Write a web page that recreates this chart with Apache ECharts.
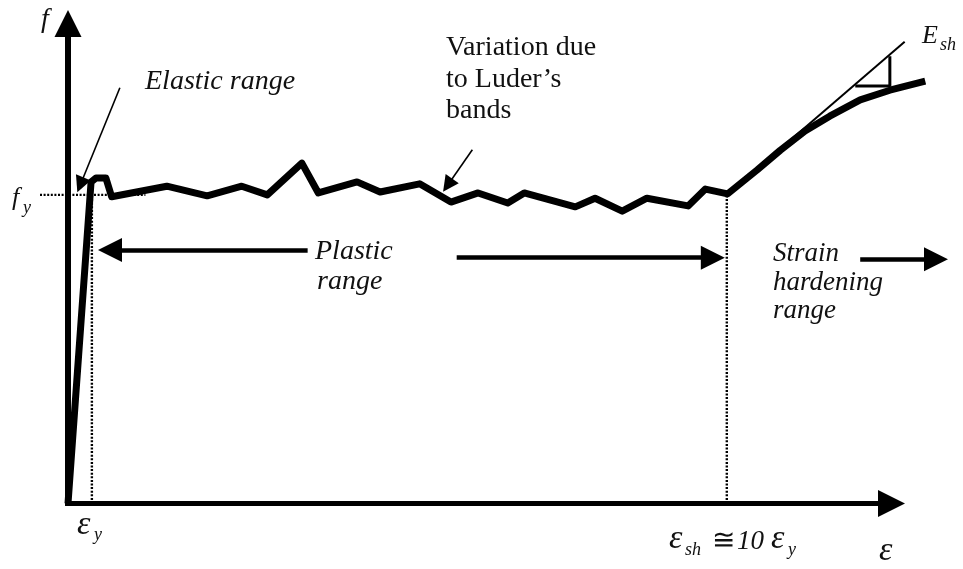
<!DOCTYPE html>
<html>
<head>
<meta charset="utf-8">
<script src="https://cdn.jsdelivr.net/npm/echarts@6/dist/echarts.min.js"></script>
<style>
html,body{margin:0;padding:0;background:#fff;}
#chart{width:963px;height:569px;}
</style>
</head>
<body>
<div id="chart"></div>
<script>
// ---- data (arbitrary strain / stress units) ----
const strain = [0, 2.8, 3.4, 4.6, 5.3, 12.0, 16.9, 21.1, 24.2, 28.4, 30.4, 35.1, 37.9, 42.7, 46.5, 49.8, 53.4, 55.4, 61.6, 64.0, 67.3, 70.3, 75.3, 77.4, 80.1, 83.7, 86.5, 89.5, 92.5, 96.2, 99.8, 104.1];
const stress = [0, 67.0, 67.8, 67.8, 63.9, 66.1, 64.1, 66.1, 64.3, 70.9, 64.7, 67.0, 64.9, 66.6, 62.8, 64.7, 62.6, 64.7, 61.8, 63.6, 60.9, 63.6, 62.0, 65.5, 64.5, 69.5, 73.6, 77.6, 80.7, 84.1, 86.1, 88.0];
const fy = 64.3;          // yield stress
const ey = 2.9;           // yield strain
const esh = 80.0;         // strain at onset of hardening
const eshStress = 64.5;
const fyLineX = [-3.4, 9.4];
const tangentX = [87.7, 101.6];
const tangentY = [75.7, 96.2];
const triX = [95.6, 99.8, 99.8];
const triY = [87.0, 87.0, 93.2];
// axis arrows (end points in data units)
const axisEndX = 100;
const axisEndY = 100;
// range arrows: [x1, y1, x2, y2]
const rangeArrows = [[29.1, 52.8, 5.1, 52.8], [47.2, 51.2, 78.3, 51.2], [96.2, 50.9, 105.4, 50.9]];
// pointer arrows: [x1, y1, x2, y2]
const pointerArrows = [[6.3, 86.6, 1.5, 66.4], [49.1, 73.7, 46.1, 66.3]];

const FONT = '"Liberation Serif", "Times New Roman", serif';
function T(text, x, base, size, italic, align) {
  return {
    type: 'text', x: x, y: base - 0.34 * size, silent: true, z: 100,
    style: {
      text: text,
      font: (italic ? 'italic ' : '') + size + 'px ' + FONT,
      fill: '#111',
      textAlign: align || 'left',
      textVerticalAlign: 'middle'
    }
  };
}

const chart = echarts.init(document.getElementById('chart'), null, {renderer: 'canvas'});
const zip = (xs, ys) => xs.map((x, i) => [x, ys[i]]);
const dotted = {color: '#000', width: 2.4, type: [2, 1.6]};

chart.setOption({
  animation: false,
  backgroundColor: '#fff',
  grid: {left: 2.12, right: 5.62, top: 4.3, bottom: 55.9, containLabel: false, outerBoundsMode: 'none'},
  xAxis: {
    type: 'value', min: -8, max: 108,
    axisLine: {show: false}, axisTick: {show: false}, axisLabel: {show: false}, splitLine: {show: false}
  },
  yAxis: {
    type: 'value', min: -2, max: 104,
    axisLine: {show: false}, axisTick: {show: false}, axisLabel: {show: false}, splitLine: {show: false}
  },
  series: [
    {
      type: 'line', data: zip(strain, stress), symbol: 'none', z: 5,
      lineStyle: {color: '#000', width: 7, join: 'round'}
    },
    {
      type: 'line', data: [[ey, 0], [ey, fy]], symbol: 'none', z: 3, lineStyle: dotted
    },
    {
      type: 'line', data: [[fyLineX[0], fy], [fyLineX[1], fy]], symbol: 'none', z: 3, lineStyle: dotted
    },
    {
      type: 'line', data: [[esh, 0], [esh, eshStress]], symbol: 'none', z: 3, lineStyle: dotted
    },
    {
      type: 'line', data: zip(tangentX, tangentY), symbol: 'none', z: 4,
      lineStyle: {color: '#000', width: 2}
    },
    {
      type: 'line', data: zip(triX, triY), symbol: 'none', z: 4,
      lineStyle: {color: '#000', width: 3}
    },
    {
      // axes with arrow heads
      type: 'line', data: [], z: 7,
      markLine: {
        silent: true, animation: false,
        symbol: ['none', 'triangle'], symbolSize: 27,
        label: {show: false},
        lineStyle: {color: '#000', width: 5, type: 'solid'},
        data: [
          [{coord: [-0.3, 0]}, {coord: [axisEndX, 0]}],
          [{coord: [0, -0.5], lineStyle: {width: 6}}, {coord: [0, axisEndY]}]
        ]
      }
    },
    {
      type: 'line', data: [], z: 6,
      markLine: {
        silent: true, animation: false,
        symbol: ['none', 'triangle'], symbolSize: 24,
        label: {show: false},
        lineStyle: {color: '#000', width: 4.5, type: 'solid'},
        data: rangeArrows.map(a => [{coord: [a[0], a[1]]}, {coord: [a[2], a[3]]}])
      }
    },
    {
      type: 'line', data: [], z: 6,
      markLine: {
        silent: true, animation: false,
        symbol: ['none', 'triangle'], symbolSize: 16,
        label: {show: false},
        lineStyle: {color: '#000', width: 1.6, type: 'solid'},
        data: pointerArrows.map(a => [{coord: [a[0], a[1]]}, {coord: [a[2], a[3]]}])
      }
    }
  ],
  graphic: [
    T('f', 45, 29, 28, true, 'center'),
    T('f', 12, 207, 26, true),
    T('y', 23, 214, 18, true),
    T('Elastic range', 145, 91, 28, true),
    T('Variation due', 446, 57, 28, false),
    T('to Luder\u2019s', 446, 89, 28, false),
    T('bands', 446, 120, 28, false),
    T('Plastic', 315, 261, 28, true),
    T('range', 317, 291, 28, true),
    T('Strain', 773, 263, 27, true),
    T('hardening', 773, 292, 27, true),
    T('range', 773, 320, 27, true),
    T('\u03b5', 77, 537, 34, true),
    T('y', 94, 541, 18, true),
    T('\u03b5', 669, 551, 34, true),
    T('sh', 685, 556, 18, true),
    T('\u2245', 712, 551, 28, false),
    T('10', 737, 551, 27, true),
    T('\u03b5', 771, 551, 34, true),
    T('y', 788, 556, 18, true),
    T('\u03b5', 879, 563, 34, true),
    T('E', 922, 45, 26, true),
    T('sh', 940, 51, 18, true)
  ]
});
</script>
</body>
</html>
